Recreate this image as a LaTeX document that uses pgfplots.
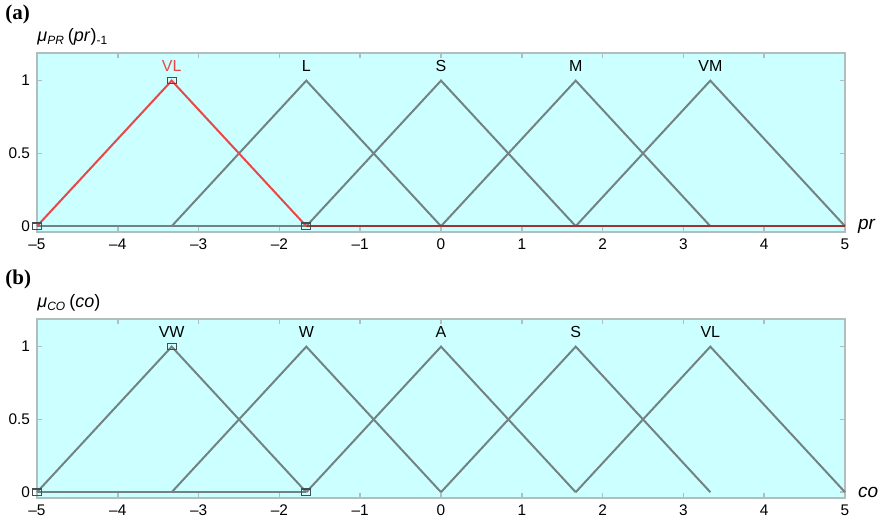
\documentclass[border=0pt]{standalone}
\usepackage{fontspec}
\setmainfont{Liberation Sans}
\newfontfamily\serifb{Liberation Serif}
\usepackage{pgfplots}
\pgfplotsset{compat=1.18}
\definecolor{bg}{RGB}{204,255,255}
\definecolor{ln}{RGB}{115,130,130}
\definecolor{rd}{RGB}{232,72,72}
\definecolor{fr}{RGB}{178,190,190}
\pgfplotsset{mf/.style={scale only axis, width=404pt, height=89.5pt,
  xmin=-5, xmax=5, ymin=-0.04, ymax=1.19,
  xtick={-5,-4,-3,-2,-1,0,1,2,3,4,5},
  xticklabels={–5,–4,–3,–2,–1,0,1,2,3,4,5},
  ytick={0,0.5,1}, yticklabels={0,0.5,1},
  axis background/.style={fill=bg},
  axis line style={fr, line width=1.2pt},
  major tick style={fr, line width=0.8pt}, major tick length=2.5pt,
  tick align=inside,
  tick label style={font=\fontsize{7.7}{9}\selectfont},
  clip=false, anchor=south west}}
\begin{document}
\begin{tikzpicture}
\useasboundingbox (-18.5pt,116pt) rectangle (422pt,-148pt);
\begin{axis}[mf, at={(0,0)}]
\addplot[ln, line width=1pt] coordinates {(-5,0)(-1.667,0)};
\addplot[ln, line width=1pt] coordinates {(-3.333,0)(-1.667,1)(0,0)};
\addplot[ln, line width=1pt] coordinates {(-1.667,0)(0,1)(1.667,0)};
\addplot[ln, line width=1pt] coordinates {(0,0)(1.667,1)(3.333,0)};
\addplot[ln, line width=1pt] coordinates {(1.667,0)(3.333,1)(5,0)};
\addplot[rd!70!black, line width=1pt] coordinates {(-1.667,0)(5,0)};
\addplot[rd, line width=1pt] coordinates {(-5,0)(-3.333,1)(-1.667,0)};
\addplot[only marks, mark=square, mark size=1.6pt, mark options={ln!60!black, xscale=1.4, line width=0.6pt}] coordinates {(-3.333,1)(-5,0)(-1.667,0)};
\node[text=rd, font=\fontsize{8}{9}\selectfont] at (axis cs:-3.333,1.1) {VL};
\node[font=\fontsize{8}{9}\selectfont] at (axis cs:-1.667,1.1) {L};
\node[font=\fontsize{8}{9}\selectfont] at (axis cs:0,1.1) {S};
\node[font=\fontsize{8}{9}\selectfont] at (axis cs:1.667,1.1) {M};
\node[font=\fontsize{8}{9}\selectfont] at (axis cs:3.333,1.1) {VM};
\node[anchor=west, font=\fontsize{9.5}{10}\selectfont\itshape] at (axis cs:5,0) [xshift=3pt] {pr};
\node[anchor=base west, inner sep=0, font=\fontsize{9}{10}\selectfont] at (rel axis cs:0,1) [yshift=5.5pt] {\textit{μ}\textsubscript{\textit{PR}}\,(\textit{pr})\textsubscript{-1}};
\end{axis}
\node[anchor=north west, inner sep=0, font=\serifb\bfseries\fontsize{10.5}{12}\selectfont] at (-16pt,113.5pt) {(a)};
\begin{axis}[mf, at={(0,-133pt)}]
\addplot[ln, line width=1pt] coordinates {(-5,0)(-1.667,0)};
\addplot[ln, line width=1pt] coordinates {(-5,0)(-3.333,1)(-1.667,0)};
\addplot[ln, line width=1pt] coordinates {(-3.333,0)(-1.667,1)(0,0)};
\addplot[ln, line width=1pt] coordinates {(-1.667,0)(0,1)(1.667,0)};
\addplot[ln, line width=1pt] coordinates {(0,0)(1.667,1)(3.333,0)};
\addplot[ln, line width=1pt] coordinates {(1.667,0)(3.333,1)(5,0)};
\addplot[only marks, mark=square, mark size=1.6pt, mark options={ln!60!black, xscale=1.4, line width=0.6pt}] coordinates {(-3.333,1)(-5,0)(-1.667,0)};
\node[font=\fontsize{8}{9}\selectfont] at (axis cs:-3.333,1.1) {VW};
\node[font=\fontsize{8}{9}\selectfont] at (axis cs:-1.667,1.1) {W};
\node[font=\fontsize{8}{9}\selectfont] at (axis cs:0,1.1) {A};
\node[font=\fontsize{8}{9}\selectfont] at (axis cs:1.667,1.1) {S};
\node[font=\fontsize{8}{9}\selectfont] at (axis cs:3.333,1.1) {VL};
\node[anchor=west, font=\fontsize{9.5}{10}\selectfont\itshape] at (axis cs:5,0) [xshift=3pt] {co};
\node[anchor=base west, inner sep=0, font=\fontsize{9}{10}\selectfont] at (rel axis cs:0,1) [yshift=5.5pt] {\textit{μ}\textsubscript{\textit{CO}}\,(\textit{co})};
\end{axis}
\node[anchor=north west, inner sep=0, font=\serifb\bfseries\fontsize{10.5}{12}\selectfont] at (-16pt,-19pt) {(b)};
\end{tikzpicture}
\end{document}
